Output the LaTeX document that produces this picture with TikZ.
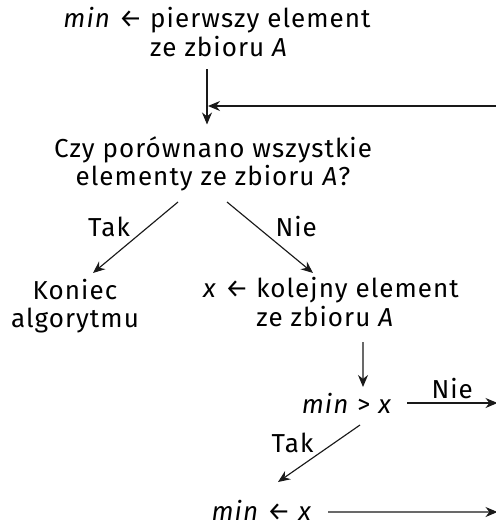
\documentclass[tikz,border=0pt]{standalone}
\usepackage{fontspec}
\setmainfont{Fira Sans}[LetterSpace=4]
\usetikzlibrary{positioning,arrows.meta,calc}

\begin{document}
\begin{tikzpicture}[
  txt/.style={inner sep=0pt, font=\fontsize{14.8}{15.9}\selectfont},
  arr/.style={-{Stealth[length=0.24cm, width=0.2cm]}, line width=0.65pt, draw=black!90}
]
\useasboundingbox (0,0) rectangle (9.9,-10.54);

% Steps of the algorithm
\node[txt] (start) at (4.34,-0.72) {\begin{tabular}{@{}r@{ }l@{}}\textit{min} ← & pierwszy element\\ & ze zbioru \textit{A}\end{tabular}};
\node[txt, align=center] (check) at (4.26,-3.28) {Czy porównano wszystkie\\elementy ze zbioru \textit{A}?};
\node[txt, align=center] (endn) at (1.5,-6.12) {Koniec\\algorytmu};
\node[txt] (next) at (6.62,-6.12) {\begin{tabular}{@{}r@{ }l@{}}\textit{x} ← & kolejny element\\ & ze zbioru \textit{A}\end{tabular}};
\node[txt] (cmp) at (6.94,-8.06) {\textit{min} > \textit{x}};
\node[txt] (assign) at (5.24,-10.2) {\textit{min} ← \textit{x}};

% Free ends at the right edge
\coordinate (loopin) at (9.95,-2.12);
\coordinate (outnie) at (9.95,-8.06);
\coordinate (outend) at (9.95,-10.24);

% Connectors
\draw[arr] ([xshift=-0.12cm]check.north |- start.south) ++(0,-0.08) -- ([xshift=-0.12cm, yshift=0.24cm]check.north);
\draw[arr] (loopin) -- ([xshift=-0.1cm]check.north |- loopin);
\draw[arr] ([shift={(-0.70,-0.76)}]check.center) -- node[midway, above left, txt, xshift=-0.1cm] (tak1) {Tak} ([shift={(0.36,0.66)}]endn.center);
\draw[arr] ([shift={(0.28,-0.76)}]check.center) -- node[midway, above right, txt, xshift=0.1cm] (nie1) {Nie} ([shift={(-0.36,0.66)}]next.center);
\draw[arr] ([shift={(0.64,-0.72)}]next.center) -- ([shift={(0.32,0.32)}]cmp.center);
\draw[arr] ([xshift=1.2cm]cmp.center) -- node[midway, above, txt, yshift=0.08cm] (nie2) {Nie} (outnie);
\draw[arr] ([shift={(0.26,-0.44)}]cmp.center) -- node[midway, above left, txt, xshift=-0.1cm] (tak2) {Tak} ([shift={(0.32,0.56)}]assign.center);
\draw[arr] ([xshift=1.32cm, yshift=-0.04cm]assign.center) -- (outend);
\end{tikzpicture}
\end{document}
